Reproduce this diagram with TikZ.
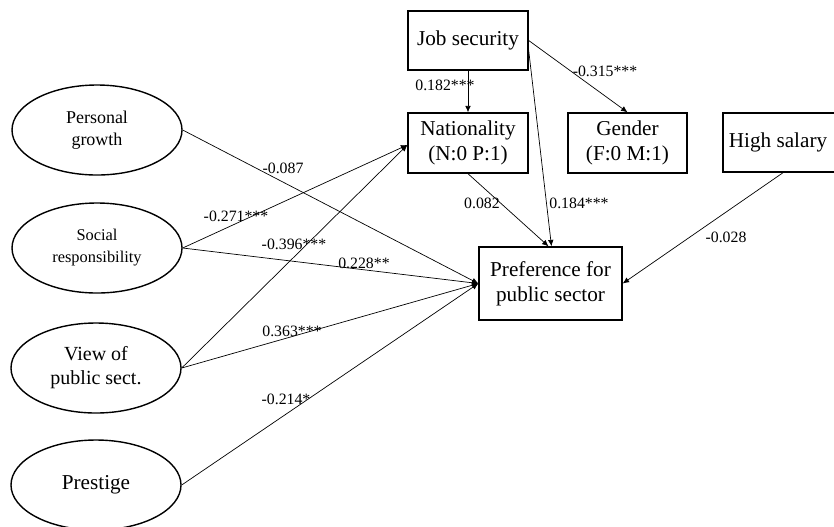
\documentclass[tikz,border=0pt]{standalone}
\usepackage{fontspec}
\setmainfont{Liberation Serif}
\usetikzlibrary{shapes.geometric,arrows.meta}
\begin{document}
\begin{tikzpicture}[x=0.5pt,y=-0.5pt,
  lat/.style={ellipse,draw,line width=0.7pt,minimum width=85pt,minimum height=45pt,inner sep=0pt,align=center},
  obs/.style={rectangle,draw,line width=0.7pt,inner sep=0pt,align=center,font=\fontsize{10.6}{12.5}\selectfont},
  path/.style={line width=0.35pt,-{Latex[length=3.2pt,width=2.8pt]}},
  coef/.style={inner sep=0pt,font=\fontsize{7.9}{9}\selectfont}]
\path[use as bounding box] (0,0) rectangle (834,526);
\begin{scope}
\clip (-2,-2) rectangle (834,528);
% latent variables
\node[lat,font=\fontsize{9}{11}\selectfont] (pg) at (97,130) {Personal\\growth};
\node[lat,font=\fontsize{8.2}{11}\selectfont] (sr) at (97,248) {Social\\responsibility};
\node[lat,font=\fontsize{10}{12}\selectfont] (vp) at (96,368) {View of\\public sect.};
\node[lat,font=\fontsize{10.6}{12}\selectfont] (pr) at (96,485) {Prestige};
% observed variables
\node[obs,minimum width=60pt,minimum height=29.5pt] (job) at (468,40.5) {Job security};
\node[obs,minimum width=60pt,minimum height=30pt] (nat) at (468,143) {Nationality\\(N:0 P:1)};
\node[obs,minimum width=59.5pt,minimum height=30pt] (gen) at (627.5,143) {Gender\\(F:0 M:1)};
\node[obs,minimum width=65pt,minimum height=29.5pt] (high) at (788,142.5) {\hspace*{-10pt}High salary};
\node[obs,minimum width=71.5pt,minimum height=36.5pt] (pref) at (550.5,283.5) {Preference for\\public sector};
% paths
\draw[path] (job) -- (nat);
\draw[path] (job.east) -- (gen.north);
\draw[path] ([yshift=-5pt]job.east) -- ([xshift=0.5pt]pref.north);
\draw[path] (nat.south) -- ([xshift=-1pt]pref.north);
\draw[path] ([xshift=-2.5pt]high.south) -- (pref.east);
\draw[path] (pg.east) -- (pref.west);
\draw[path] (sr.east) -- (pref.west);
\draw[path] (vp.east) -- (pref.west);
\draw[path] (pr.east) -- (pref.west);
\draw[path] (sr.east) -- ([yshift=-1pt]nat.west);
\draw[path] (vp.east) -- ([yshift=-1pt]nat.west);
% coefficients
\node[coef] (c1) at (445,85) {0.182***};
\node[coef] (c2) at (605,71) {-0.315***};
\node[coef] (c3) at (482,203) {0.082};
\node[coef] (c4) at (579,203) {0.184***};
\node[coef] (c5) at (726,237) {-0.028};
\node[coef] (c6) at (283,168) {-0.087};
\node[coef] (c7) at (236,216) {-0.271***};
\node[coef] (c8) at (294,244) {-0.396***};
\node[coef] (c9) at (364,263) {0.228**};
\node[coef] (c10) at (292,331) {0.363***};
\node[coef] (c11) at (286,399) {-0.214*};
\end{scope}
\end{tikzpicture}
\end{document}
